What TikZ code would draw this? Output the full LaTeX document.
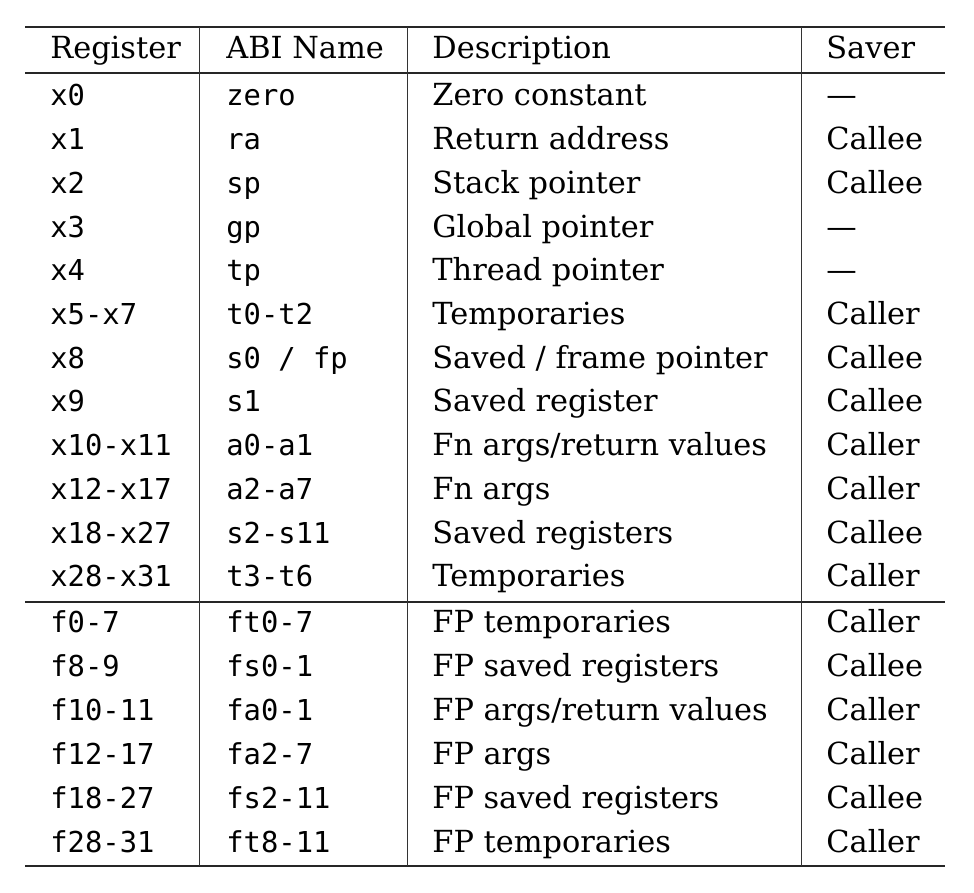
\documentclass[tikz,border=0pt]{standalone}
\usepackage{fontspec}
\setmainfont{DejaVu Serif}
\setmonofont{DejaVu Sans Mono}
\usepackage{tikz}

\tikzset{
  cell/.style={anchor=base west, inner sep=0pt, font=\fontsize{15.2}{18}\selectfont},
  mono/.style={cell, font=\fontsize{14.4}{18}\ttfamily},
  rule/.style={draw=black!85, line width=0.75pt},
  sep/.style={draw=black!80, line width=0.5pt}
}

% one table row: name, baseline, register, abi name, description, saver
\newcommand{\regrow}[6]{%
  \node[mono] (reg#1) at (50,#2) {#3};
  \node[mono] (abi#1) at (226,#2) {#4};
  \node[cell] (desc#1) at (432,#2) {#5};
  \node[cell] (saver#1) at (826,#2) {#6};
}

\begin{document}
\begin{tikzpicture}[x=0.5pt,y=-0.5pt]

\useasboundingbox (0,0) rectangle (974,893);

\coordinate (tl) at (25,27);
\coordinate (tr) at (945,27);
\coordinate (hl) at (25,73);
\coordinate (hr) at (945,73);
\coordinate (ml) at (25,602);
\coordinate (mr) at (945,602);
\coordinate (bl) at (25,866);
\coordinate (br) at (945,866);

% header
\node[cell] (hreg) at (50,59) {Register};
\node[cell] (habi) at (226,59) {ABI Name};
\node[cell] (hdesc) at (432,59) {Description};
\node[cell] (hsaver) at (826,59) {Saver};

% integer registers
\regrow{0}{106}{x0}{zero}{Zero constant}{\textemdash}
\regrow{1}{149.7}{x1}{ra}{Return address}{Callee}
\regrow{2}{193.4}{x2}{sp}{Stack pointer}{Callee}
\regrow{3}{237.1}{x3}{gp}{Global pointer}{\textemdash}
\regrow{4}{280.8}{x4}{tp}{Thread pointer}{\textemdash}
\regrow{5}{324.5}{x5-x7}{t0-t2}{Temporaries}{Caller}
\regrow{8}{368.2}{x8}{s0 / fp}{Saved / frame pointer}{Callee}
\regrow{9}{411.9}{x9}{s1}{Saved register}{Callee}
\regrow{10}{455.6}{x10-x11}{a0-a1}{Fn args/return values}{Caller}
\regrow{12}{499.3}{x12-x17}{a2-a7}{Fn args}{Caller}
\regrow{18}{543}{x18-x27}{s2-s11}{Saved registers}{Callee}
\regrow{28}{586.7}{x28-x31}{t3-t6}{Temporaries}{Caller}

% floating point registers
\regrow{f0}{632}{f0-7}{ft0-7}{FP temporaries}{Caller}
\regrow{f8}{676}{f8-9}{fs0-1}{FP saved registers}{Callee}
\regrow{f10}{720}{f10-11}{fa0-1}{FP args/return values}{Caller}
\regrow{f12}{764}{f12-17}{fa2-7}{FP args}{Caller}
\regrow{f18}{808}{f18-27}{fs2-11}{FP saved registers}{Callee}
\regrow{f28}{852}{f28-31}{ft8-11}{FP temporaries}{Caller}

% rules
\path[rule] (tl) -- (tr);
\path[rule] (hl) -- (hr);
\path[rule] (ml) -- (mr);
\path[rule] (bl) -- (br);

% column separators
\path[sep] (199,27) -- (199,866);
\path[sep] (407,27) -- (407,866);
\path[sep] (801,27) -- (801,866);

\end{tikzpicture}
\end{document}
